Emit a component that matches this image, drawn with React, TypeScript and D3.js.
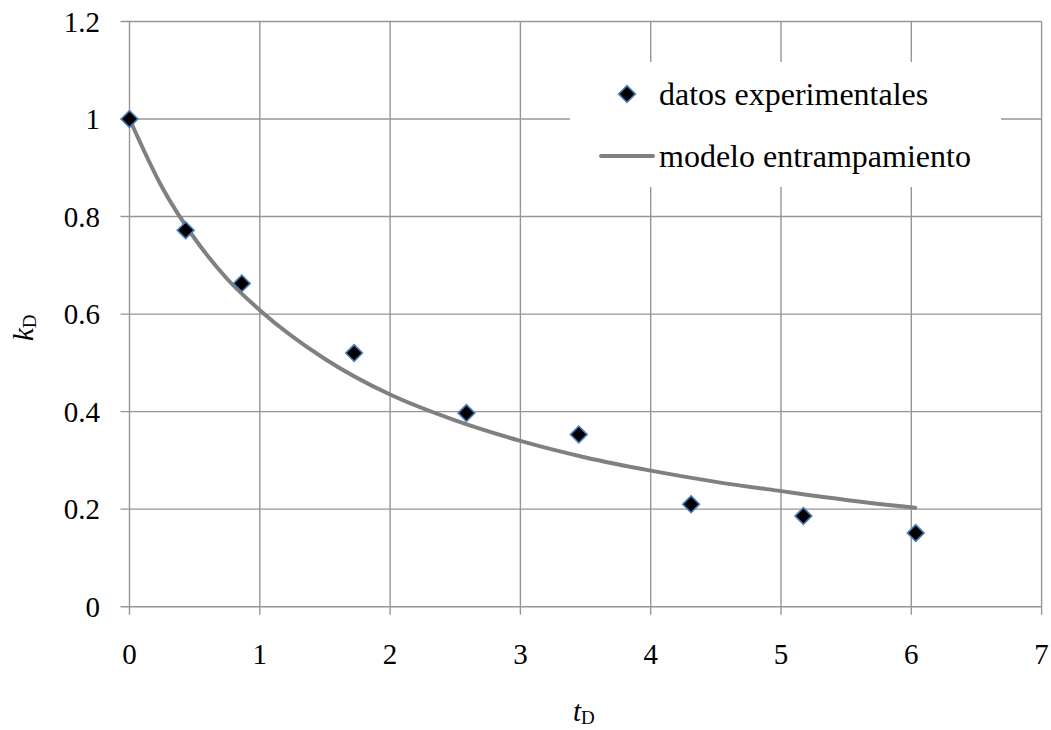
import React, { useEffect, useRef } from 'react';
import * as d3 from 'd3';

const expT = [0, 0.431, 0.862, 1.724, 2.586, 3.448, 4.31, 5.172, 6.034];
const expK = [1.0, 0.772, 0.663, 0.52, 0.397, 0.353, 0.21, 0.186, 0.151];

// model curve, read at several t values
const modelT = [0, 0.25, 0.5, 0.75, 1, 1.5, 2, 2.5, 3, 3.5, 4, 4.5, 5, 5.5, 6.03];
const modelK = [1.0, 0.86, 0.755, 0.672, 0.608, 0.508, 0.435, 0.382, 0.34, 0.306, 0.279, 0.256, 0.237, 0.219, 0.203];

const xTicks = [0, 1, 2, 3, 4, 5, 6, 7];
const yTicks = [0, 0.2, 0.4, 0.6, 0.8, 1, 1.2];

const seriesNames = ['datos experimentales', 'modelo entrampamiento'];

const W = 1051;
const H = 730;
const FONT = 'Liberation Serif';

const App: React.FC = () => {
  const svgRef = useRef<SVGSVGElement>(null);

  useEffect(() => {
    if (!svgRef.current) return;
    const svg = d3.select(svgRef.current);
    svg.selectAll('*').remove();

    const left = 129.5;
    const right = 1041.6;
    const top = 21.5;
    const bottom = 606.7;

    const x = d3.scaleLinear().domain([0, 7]).range([left, right]);
    const y = d3.scaleLinear().domain([0, 1.2]).range([bottom, top]);

    const gridColor = '#969696';

    // Grid lines (with the short outside ticks)
    const grid = svg.append('g');
    grid.selectAll('line.v')
      .data(xTicks)
      .join('line')
      .attr('x1', d => x(d))
      .attr('x2', d => x(d))
      .attr('y1', top)
      .attr('y2', bottom + 8)
      .attr('stroke', gridColor)
      .attr('stroke-width', 1.4);

    grid.selectAll('line.h')
      .data(yTicks)
      .join('line')
      .attr('x1', left - 9)
      .attr('x2', right)
      .attr('y1', d => y(d))
      .attr('y2', d => y(d))
      .attr('stroke', gridColor)
      .attr('stroke-width', 1.4);

    // Tick labels
    svg.append('g')
      .selectAll('text')
      .data(xTicks)
      .join('text')
      .attr('x', d => x(d))
      .attr('y', 664)
      .attr('text-anchor', 'middle')
      .attr('font-family', FONT)
      .attr('font-size', 29)
      .attr('fill', '#000')
      .text(d => String(d));

    svg.append('g')
      .selectAll('text')
      .data(yTicks)
      .join('text')
      .attr('x', 100)
      .attr('y', d => y(d) + 10)
      .attr('text-anchor', 'end')
      .attr('font-family', FONT)
      .attr('font-size', 29)
      .attr('fill', '#000')
      .text(d => String(d));

    // Axis titles
    const xt = svg.append('text')
      .attr('x', 573)
      .attr('y', 721)
      .attr('font-family', FONT)
      .attr('font-size', 29)
      .attr('fill', '#000');
    xt.append('tspan').attr('font-style', 'italic').text('t');
    xt.append('tspan').attr('dy', 3).attr('font-size', 19).text('D');

    const yt = svg.append('text')
      .attr('transform', 'translate(33,341) rotate(-90)')
      .attr('font-family', FONT)
      .attr('font-size', 29)
      .attr('fill', '#000');
    yt.append('tspan').attr('font-style', 'italic').text('k');
    yt.append('tspan').attr('dy', 3).attr('font-size', 19).text('D');

    // Model curve
    const line = d3.line<number>()
      .x((d, i) => x(modelT[i]))
      .y(d => y(d))
      .curve(d3.curveMonotoneX);

    svg.append('path')
      .datum(modelK)
      .attr('fill', 'none')
      .attr('stroke', '#808080')
      .attr('stroke-width', 4)
      .attr('stroke-linecap', 'round')
      .attr('d', line);

    // Experimental points
    const diamond = d3.symbol().type(d3.symbolSquare).size(140);
    svg.append('g')
      .selectAll('path')
      .data(expK)
      .join('path')
      .attr('d', diamond() as string)
      .attr('transform', (d, i) => `translate(${x(expT[i])},${y(d)}) rotate(45)`)
      .attr('fill', '#000')
      .attr('stroke', '#4a7ebb')
      .attr('stroke-width', 1.6);

    // Legend
    const lg = svg.append('g');
    lg.append('rect')
      .attr('x', 570)
      .attr('y', 62)
      .attr('width', 431)
      .attr('height', 125)
      .attr('fill', '#fff');

    lg.append('path')
      .attr('d', diamond() as string)
      .attr('transform', 'translate(627,94) rotate(45)')
      .attr('fill', '#000')
      .attr('stroke', '#4a7ebb')
      .attr('stroke-width', 1.6);

    lg.append('line')
      .attr('x1', 601)
      .attr('x2', 653)
      .attr('y1', 156)
      .attr('y2', 156)
      .attr('stroke', '#808080')
      .attr('stroke-width', 4)
      .attr('stroke-linecap', 'round');

    lg.selectAll('text')
      .data(seriesNames)
      .join('text')
      .attr('x', 659)
      .attr('y', (d, i) => 105 + i * 62)
      .attr('font-family', FONT)
      .attr('font-size', 32)
      .attr('fill', '#000')
      .text(d => d);
  }, []);

  return (
    <svg
      ref={svgRef}
      width={W}
      height={H}
      style={{ position: 'absolute', left: 0, top: 0, background: '#fff' }}
    />
  );
};

export default App;
